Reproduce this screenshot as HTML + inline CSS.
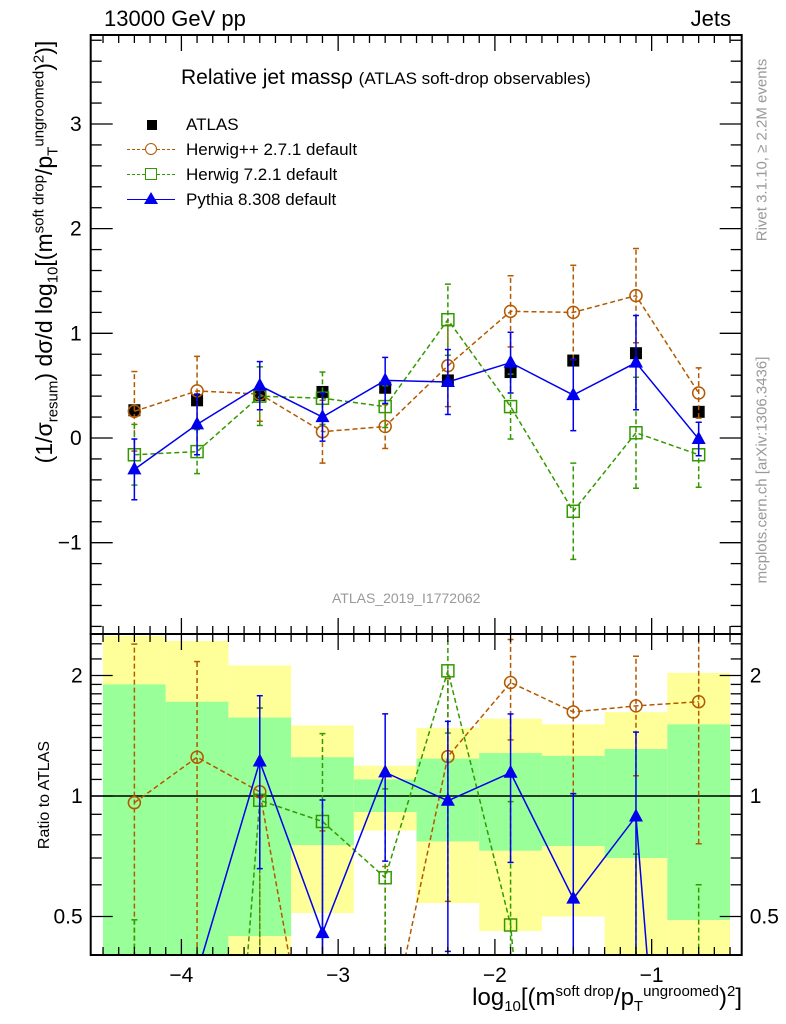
<!DOCTYPE html>
<html><head><meta charset="utf-8"><style>
html,body{margin:0;background:#fff;overflow:hidden;width:786px;height:1024px;position:relative;}
svg{display:block;font-family:"Liberation Sans",sans-serif;}
</style></head><body>
<svg id="c" width="786" height="1024" viewBox="0 0 786 1024"></svg>
<script>
const centers=[-4.3,-3.9,-3.5,-3.1,-2.7,-2.3,-1.9,-1.5,-1.1,-0.7];
const binEdges=[-4.5,-4.1,-3.7,-3.3,-2.9,-2.5,-2.1,-1.7,-1.3,-0.9,-0.5];
const atlasVals=[0.265,0.36,0.41,0.44,0.48,0.55,0.63,0.74,0.81,0.25];
const hppVals=[0.255,0.45,0.42,0.06,0.11,0.69,1.21,1.20,1.36,0.43];
const hppErr=[0.38,0.33,0.26,0.30,0.21,0.39,0.34,0.45,0.45,0.24];
const h7Vals=[-0.16,-0.13,0.40,0.38,0.30,1.13,0.30,-0.70,0.05,-0.16];
const h7Err=[0.29,0.21,0.28,0.25,0.20,0.34,0.31,0.46,0.53,0.31];
const pyVals=[-0.30,0.13,0.50,0.20,0.55,0.535,0.72,0.41,0.72,-0.01];
const pyErr=[0.29,0.29,0.23,0.23,0.22,0.31,0.29,0.34,0.45,0.16];
const yellowHi=[2.51,2.44,2.12,1.50,1.19,1.48,1.56,1.51,1.62,2.03];
const yellowLo=[0.2,0.2,0.2,0.51,0.82,0.54,0.46,0.50,0.2,0.2];
const greenHi=[1.90,1.72,1.57,1.25,1.10,1.24,1.28,1.26,1.31,1.51];
const greenLo=[0.2,0.2,0.447,0.754,0.912,0.77,0.73,0.75,0.70,0.49];
const mainTicks=[-1,0,1,2,3];
const ratioTicks=[0.5,1,2];
const xTicks=[-4,-3,-2,-1];

const NS="http://www.w3.org/2000/svg";
const svg=document.getElementById('c');
const L=90.7,R=741.7,T=35,MB=634,B=955;
const X=v=>181.4+156.75*(v+4);
const Y=v=>438-104.67*v;
const RY=r=>796-120.5*Math.log2(Math.max(r,0.01));
function el(tag,attrs,parent){const e=document.createElementNS(NS,tag);for(const k in attrs)e.setAttribute(k,attrs[k]);(parent||svg).appendChild(e);return e;}
function txt(s,attrs,parent){const e=el('text',attrs,parent);e.textContent=s;return e;}

const defs=el('defs',{});
const cp1=el('clipPath',{id:'cm'},defs);el('rect',{x:L,y:T,width:R-L,height:MB-T},cp1);
const cp2=el('clipPath',{id:'cr'},defs);el('rect',{x:L,y:MB,width:R-L,height:B-MB},cp2);

const gBand=el('g',{'clip-path':'url(#cr)'});


for(let i=0;i<centers.length;i++){
  const x0=X(binEdges[i]),x1=X(binEdges[i+1]);
  const ry=el('rect',{x:x0,y:RY(yellowHi[i]),width:x1-x0,height:RY(yellowLo[i])-RY(yellowHi[i]),fill:'#ffff99'},gBand);
  
  
  const rg=el('rect',{x:x0,y:RY(greenHi[i]),width:x1-x0,height:RY(greenLo[i])-RY(greenHi[i]),fill:'#99ff99'},gBand);
  
  
}
el('line',{x1:L,x2:R,y1:RY(1),y2:RY(1),stroke:'#000','stroke-width':1.5});

function marker(g,type,x,y,color){
  if(type==='circle')return el('circle',{cx:x,cy:y,r:6,fill:'none',stroke:color,'stroke-width':1.5},g);
  if(type==='osquare')return el('rect',{x:x-6,y:y-6,width:12,height:12,fill:'none',stroke:color,'stroke-width':1.5},g);
  if(type==='tri')return el('polygon',{points:`${x},${y-8} ${x-7},${y+5} ${x+7},${y+5}`,fill:color},g);
  if(type==='square')return el('rect',{x:x-6,y:y-6,width:12,height:12,fill:color},g);
}
function series(name,vals,errs,type,color,dash,ratio,hideOut){
  const g=el('g',{'clip-path':ratio?'url(#cr)':'url(#cm)'});
  
  
  const pts=[];
  for(let i=0;i<vals.length;i++){
    let x=X(centers[i]),y,yl,yh;
    if(ratio){const d=atlasVals[i];y=RY(vals[i]/d);yh=RY((vals[i]+errs[i])/d);yl=RY((vals[i]-errs[i])/d);}
    else{y=Y(vals[i]);yh=Y(vals[i]+errs[i]);yl=Y(vals[i]-errs[i]);}
    pts.push(x+','+y);
    if(ratio&&hideOut&&(y>B||y<MB))continue;
    const eb=el('line',{x1:x,x2:x,y1:yl,y2:yh,stroke:color,'stroke-width':1.5,'stroke-dasharray':dash},g);
    
    
    el('line',{x1:x-3,x2:x+3,y1:yl,y2:yl,stroke:color,'stroke-width':1.5},g);
    el('line',{x1:x-3,x2:x+3,y1:yh,y2:yh,stroke:color,'stroke-width':1.5},g);
  }
  el('polyline',{points:pts.join(' '),fill:'none',stroke:color,'stroke-width':1.5,'stroke-dasharray':dash},g);
  for(let i=0;i<vals.length;i++){
    const x=X(centers[i]);const y=ratio?RY(vals[i]/atlasVals[i]):Y(vals[i]);
    const m=marker(g,type,x,y,color);
    
    
  }
}
const OR='#b35900',GR='#339900',BL='#0000ee';
const ga=el('g',{});


for(let i=0;i<atlasVals.length;i++){const m=marker(ga,'square',X(centers[i]),Y(atlasVals[i]),'#000');
  
  }
series('herwigpp',hppVals,hppErr,'circle',OR,'5,3',false,false);
series('herwig7',h7Vals,h7Err,'osquare',GR,'5,3',false,false);
series('pythia',pyVals,pyErr,'tri',BL,'',false,false);
series('herwigpp',hppVals,hppErr,'circle',OR,'5,3',true,false);
series('herwig7',h7Vals,h7Err,'osquare',GR,'5,3',true,false);
series('pythia',pyVals,pyErr,'tri',BL,'',true,true);

el('rect',{x:L,y:T,width:R-L,height:MB-T,fill:'none',stroke:'#000','stroke-width':2});
el('rect',{x:L,y:MB,width:R-L,height:B-MB,fill:'none',stroke:'#000','stroke-width':2});

const tk=el('g',{stroke:'#000','stroke-width':1.3});


for(let k=-46;k<=-4;k++){const v=k/10;const x=X(v);if(x<L||x>R)continue;
  const maj=(k%10===0);const len=maj?16:8;
  for(const [y0,dir] of [[T,1],[MB,-1],[MB,1],[B,-1]])el('line',{x1:x,x2:x,y1:y0,y2:y0+dir*len},tk);}
for(let k=-18;k<=38;k++){const v=k/5;const y=Y(v);if(y<T||y>MB)continue;const len=(k%5===0)?22:11;
  el('line',{x1:L,x2:L+len,y1:y,y2:y},tk);el('line',{x1:R,x2:R-len,y1:y,y2:y},tk);}
for(const r of [0.4,0.5,0.6,0.7,0.8,0.9,1,1.1,1.2,1.3,1.4,1.5,1.6,1.7,1.8,1.9,2,2.2,2.4]){const y=RY(r);const maj=ratioTicks.includes(r);const len=maj?22:11;
  el('line',{x1:L,x2:L+len,y1:y,y2:y},tk);el('line',{x1:R,x2:R-len,y1:y,y2:y},tk);}

for(const v of xTicks){const t=txt('\u2212'+Math.abs(v),{x:X(v),y:982,'font-size':21,'text-anchor':'middle'});
  }
for(const v of mainTicks){const t=txt(v<0?'\u2212'+Math.abs(v):String(v),{x:L-9,y:Y(v)+7,'font-size':21,'text-anchor':'end'});
  }
for(const r of ratioTicks){const s=String(r);
  const a=txt(s,{x:L-8,y:RY(r)+7,'font-size':21,'text-anchor':'end'});
  const b=txt(s,{x:R+8,y:RY(r)+7,'font-size':21,'text-anchor':'start'});}
</script>
<div style="position:absolute;left:0;top:0;width:786px;height:1024px;overflow:hidden;pointer-events:none;font-family:'Liberation Sans',sans-serif;">
<div style="position:absolute;left:104px;top:6px;font-size:22px;">13000 GeV pp</div>
<div style="position:absolute;right:55px;top:6px;font-size:22px;">Jets</div>
<div style="position:absolute;left:181px;top:66px;font-size:21px;white-space:nowrap;">Relative jet massρ <span style="font-size:17px">(ATLAS soft-drop observables)</span></div>
<div style="position:absolute;left:125px;top:112px;font-size:17px;line-height:25px;white-space:nowrap;width:300px;">
 <div style="position:relative;height:25px;"><span style="position:absolute;left:22px;top:8px;width:10px;height:10px;background:#000"></span><span style="position:absolute;left:61px">ATLAS</span></div>
 <div style="position:relative;height:25px;"><span style="position:absolute;left:2px;top:12px;width:48px;border-top:1.5px dashed #b35900"></span><span style="position:absolute;left:20px;top:6px;width:10px;height:10px;border:1.5px solid #b35900;border-radius:50%;background:#fff"></span><span style="position:absolute;left:61px">Herwig++ 2.7.1 default</span></div>
 <div style="position:relative;height:25px;"><span style="position:absolute;left:2px;top:12px;width:48px;border-top:1.5px dashed #339900"></span><span style="position:absolute;left:20px;top:6px;width:10px;height:10px;border:1.5px solid #339900;background:#fff"></span><span style="position:absolute;left:61px">Herwig 7.2.1 default</span></div>
 <div style="position:relative;height:25px;"><span style="position:absolute;left:2px;top:12px;width:48px;border-top:1.5px solid #0000ee"></span><span style="position:absolute;left:19px;top:5px;width:0;height:0;border-left:7px solid transparent;border-right:7px solid transparent;border-bottom:12px solid #0000ee"></span><span style="position:absolute;left:61px">Pythia 8.308 default</span></div>
</div>
<div style="position:absolute;left:332px;top:590px;font-size:14px;color:#999;">ATLAS_2019_I1772062</div>
<div style="position:absolute;left:44px;top:252px;transform:translate(-50%,-50%) rotate(-90deg);font-size:23px;white-space:nowrap;line-height:24px;">(1/σ<sub style="font-size:15px;line-height:0">resum</sub>) dσ/d log<sub style="font-size:15px;line-height:0">10</sub>[(m<sup style="font-size:15px;line-height:0">soft drop</sup>/p<sub style="font-size:15px;line-height:0">T</sub><sup style="font-size:15px;line-height:0">ungroomed</sup>)<sup style="font-size:15px;line-height:0">2</sup>)]</div>
<div style="position:absolute;left:45px;top:795px;transform:translate(-50%,-50%) rotate(-90deg);font-size:16px;white-space:nowrap;">Ratio to ATLAS</div>
<div style="position:absolute;right:44px;top:985px;font-size:24px;white-space:nowrap;line-height:26px;">log<sub style="font-size:15px;line-height:0">10</sub>[(m<sup style="font-size:15px;line-height:0">soft drop</sup>/p<sub style="font-size:15px;line-height:0">T</sub><sup style="font-size:15px;line-height:0">ungroomed</sup>)<sup style="font-size:15px;line-height:0">2</sup>]</div>
<div style="position:absolute;left:762px;top:150px;transform:translate(-50%,-50%) rotate(-90deg);font-size:15px;color:#999;white-space:nowrap;">Rivet 3.1.10, ≥ 2.2M events</div>
<div style="position:absolute;left:762px;top:470px;transform:translate(-50%,-50%) rotate(-90deg);font-size:15px;color:#999;white-space:nowrap;">mcplots.cern.ch [arXiv:1306.3436]</div>
</div>
</body></html>
